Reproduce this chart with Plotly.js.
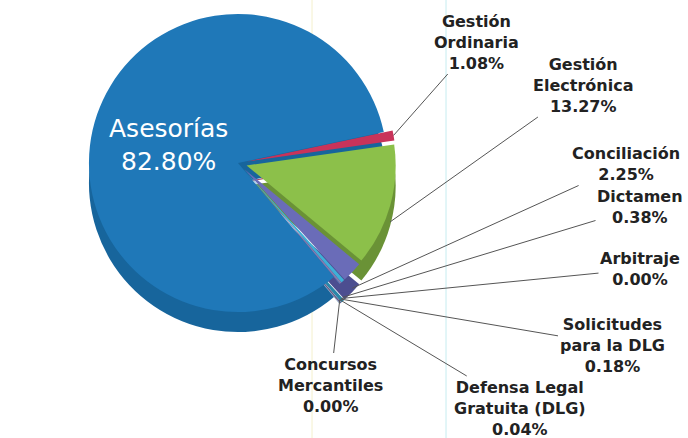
<!DOCTYPE html>
<html><head><meta charset="utf-8">
<script src="https://cdn.plot.ly/plotly-3.0.1.min.js"></script>
<style>html,body{margin:0;padding:0;background:#fff}#chart{width:688px;height:438px}</style>
</head><body><div id="chart"></div>
<script>
// ---- data ----
const categories = ["Gestión Ordinaria","Gestión Electrónica","Conciliación","Dictamen","Arbitraje","Solicitudes para la DLG","Defensa Legal Gratuita (DLG)","Concursos Mercantiles","Asesorías"];
const displayNames = ["Gestión<br>Ordinaria","Gestión<br>Electrónica","Conciliación","Dictamen","Arbitraje","Solicitudes<br>para la DLG","Defensa Legal<br>Gratuita (DLG)","Concursos<br>Mercantiles","Asesorías"];
const percentages = [1.08,13.27,2.25,0.38,0.00,0.18,0.04,0.00,82.80];

// ---- styles ----
const topColors  = ["#c8335a","#8cc04a","#6a6cb8","#3fb0d6","#7d8fa0","#8a7fb0","#5a9ad0","#7a8a6a","#1f78b8"];
const sideColors = ["#8e2140","#6a9236","#4c4e90","#2a86a8","#5c6a78","#655c88","#3f74a0","#5d6b50","#17659c"];
const pulls = [0.06,0.06,0.06,0.06,0.06,0.06,0.06,0.06,0];
const W = 688, H = 438;
const cx = 238, cy = 163, half = 158, depth = 20, rotation = 78;
const maxPull = Math.max(...pulls);
const r = half / (1 + maxPull);
// label text centres (pixels)
const labelPos = [[476,42],[583,85],[626,164],[640,207],[640,269],[612,345],[520,408],[330,385]];

const px = x => x / W, py = y => 1 - y / H;
const domTop  = {x:[px(cx-half), px(cx+half)], y:[py(cy+half), py(cy-half)]};
const domSide = {x:[px(cx-half), px(cx+half)], y:[py(cy+half+depth), py(cy-half+depth)]};

const base = {type:'pie', values:percentages, labels:categories, sort:false, direction:'clockwise',
  rotation:rotation, pull:pulls, textinfo:'none', hoverinfo:'label+percent', showlegend:false};
const traces = [
  Object.assign({}, base, {domain:domSide, marker:{colors:sideColors, line:{width:0}}, hoverinfo:'skip'}),
  Object.assign({}, base, {domain:domTop, marker:{colors:topColors, line:{width:0}}})
];

// annotations pointing to slice edges
const total = percentages.reduce((a,b)=>a+b,0);
const annotations = [];
let cum = 0;
for (let i = 0; i < categories.length; i++) {
  const v = percentages[i];
  const mid = rotation + 360 * (cum + v/2) / total;
  cum += v;
  if (i === categories.length - 1) break;
  const th = mid * Math.PI / 180;
  const rr = r * (1 + pulls[i]);
  let tx = cx + rr * Math.sin(th);
  let ty = cy - rr * Math.cos(th) + (mid > 95 ? depth * 0.8 : 0);
  const [lx, ly] = labelPos[i];
  annotations.push({xref:'paper', yref:'paper', x:px(tx), y:py(ty), ax:lx-tx, ay:ly-ty,
    text: displayNames[i] + '<br>' + v.toFixed(2) + '%', showarrow:true, arrowhead:0,
    arrowwidth:1, arrowcolor:'#555', standoff:0,
    font:{family:'DejaVu Sans', size:16, color:'#222', weight:'bold'}, align:'center'});
}
annotations.push({xref:'paper', yref:'paper', x:px(168), y:py(145), xanchor:'center', yanchor:'middle', showarrow:false,
  text: displayNames[8] + '<br>' + percentages[8].toFixed(2) + '%',
  font:{family:'DejaVu Sans', size:25, color:'#ffffff'}, align:'center'});

const layout = {width:W, height:H, margin:{l:0,r:0,t:0,b:0}, paper_bgcolor:'#fff',
  annotations: annotations,
  shapes:[
    {type:'line', xref:'paper', yref:'paper', x0:px(312), x1:px(312), y0:0, y1:1, layer:'below', line:{color:'#f4f0cc', width:1}},
    {type:'line', xref:'paper', yref:'paper', x0:px(446), x1:px(446), y0:0, y1:1, layer:'below', line:{color:'#c6ecf0', width:1}}
  ]};
Plotly.newPlot('chart', traces, layout, {displayModeBar:false, staticPlot:true});
</script></body></html>
